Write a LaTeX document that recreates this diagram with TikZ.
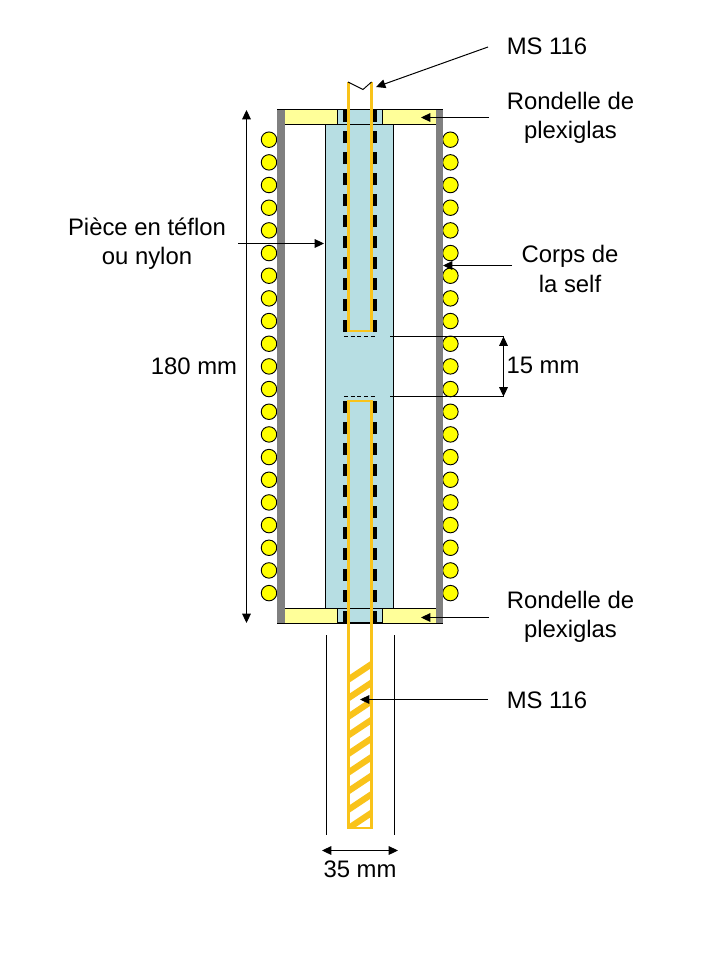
\documentclass[tikz,border=0pt]{standalone}
\usepackage{fontspec}
\setmainfont{Liberation Sans}
\usetikzlibrary{arrows.meta}
\definecolor{wallgray}{HTML}{808080}
\definecolor{plexi}{HTML}{FFFF99}
\definecolor{teflon}{HTML}{B7DEE3}
\definecolor{tube}{HTML}{F9C31A}
\definecolor{coil}{HTML}{FFFF00}
\tikzset{
  lab/.style={font=\fontsize{17.9}{21.8}\selectfont,align=center,inner sep=0pt,text=black},
  part/.style={draw=black,line width=0.75pt},
  coilturn/.style={circle,draw=black,fill=coil,line width=0.7pt,minimum size=11.6pt,inner sep=0pt},
  leader/.style={draw=black,line width=0.75pt,-{Triangle[length=7pt,width=6.5pt]}},
  dim/.style={draw=black,line width=0.75pt,{Triangle[length=7pt,width=6.5pt]}-{Triangle[length=7pt,width=6.5pt]}},
  thin line/.style={draw=black,line width=0.75pt},
  tubeline/.style={draw=tube,line width=2.1pt},
  sleeve/.style={draw=black,line width=2.6pt,dash pattern=on 9pt off 6.75pt},
  fine/.style={draw=black,line width=0.7pt,dash pattern=on 3pt off 2pt}
}
\begin{document}
\begin{tikzpicture}[x=0.75pt,y=-0.75pt]
\useasboundingbox (0,0) rectangle (720,960);
\fill[white] (0,0) rectangle (720,960);
% coils
\foreach \i in {0,...,20}{
  \node[coilturn] (cl\i) at (269,{139.7+22.67*\i}) {};
  \node[coilturn] (cr\i) at (450.4,{139.7+22.67*\i}) {};
}
% teflon piece
\filldraw[part,fill=teflon] (325.7,124.3) rectangle (393.5,608.3);
% plexiglas
\filldraw[part,fill=plexi] (284,109.5) rectangle (337.5,124.3);
\filldraw[part,fill=plexi] (382.5,109.5) rectangle (436,124.3);
\filldraw[part,fill=plexi] (284,608.3) rectangle (337.5,623.2);
\filldraw[part,fill=plexi] (382.5,608.3) rectangle (436,623.2);
% centre plugs
\filldraw[part,fill=teflon] (337.5,109.5) rectangle (382.5,124.3);
\filldraw[part,fill=teflon] (337.5,608.3) rectangle (382.5,622.8);
% body walls
\fill[wallgray] (277.3,109.5) rectangle (284.7,623.2);
\fill[wallgray] (436,109.5) rectangle (443,623.2);
\draw[part] (277.3,109.5) -- (443,109.5);
\draw[part] (277.3,623.2) -- (443,623.2);
% sleeves
\path[sleeve] (345,332) -- (345,110);
\path[sleeve] (375,332) -- (375,110);
\path[sleeve] (345,401) -- (345,623);
\path[sleeve] (375,401) -- (375,623);
\draw[line width=1.2pt] (345,622.8) -- (375,622.8);
% fine dashes
\path[fine] (344,336.4) -- (376,336.4);
\path[fine] (344,396.5) -- (376,396.5);
% upper tube
\path[tubeline] (348.7,82) -- (348.7,331) -- (371.7,331) -- (371.7,82);
\draw[black,line width=0.7pt] (348,82) -- (363,89.5) -- (371.5,82);
% lower tube
\begin{scope}
\clip (348.7,401) rectangle (371.7,828);
\foreach \k in {0,...,8}{
  \fill[tube] (372,{660+18.6*\k}) -- (372,{667.5+18.6*\k}) -- (348,{683.5+18.6*\k}) -- (348,{676+18.6*\k}) -- cycle;
}
\end{scope}
\path[tubeline] (348.7,828) -- (348.7,401) -- (371.7,401) -- (371.7,828) -- cycle;
% labels
\node[lab] (ms1) at (547,46.5) {MS 116};
\node[lab] (ron1) at (570.5,117.5) {Rondelle de\\plexiglas};
\node[lab] (corps) at (570,269) {Corps de\\la self};
\node[lab] (d15) at (543,365) {15 mm};
\node[lab] (ron2) at (570.5,616.5) {Rondelle de\\plexiglas};
\node[lab] (ms2) at (547,700.5) {MS 116};
\node[lab] (teflonlab) at (147,243.5) {Pièce en téflon\\ou nylon};
\node[lab] (d180) at (194,366.5) {180 mm};
\node[lab] (d35) at (360,869.5) {35 mm};
% leader ends
\coordinate (ms1s) at (488,47);   \coordinate (ms1e) at (376,87);
\coordinate (ron1s) at (489,117.5); \coordinate (ron1e) at (421,117.5);
\coordinate (ron2s) at (489,617.5); \coordinate (ron2e) at (421,617.5);
\coordinate (corpss) at (512,265.5);\coordinate (corpse) at (443,265.5);
\coordinate (tefs) at (238,243.5);  \coordinate (tefe) at (324,243.5);
\coordinate (ms2s) at (488,699.5);  \coordinate (ms2e) at (360,699.5);
\path[leader] (ms1s) -- (ms1e);
\path[leader] (ron1s) -- (ron1e);
\path[leader] (ron2s) -- (ron2e);
\path[leader] (corpss) -- (corpse);
\path[leader] (tefs) -- (tefe);
\path[leader] (ms2s) -- (ms2e);
% dimensions
\coordinate (a180t) at (246.5,110); \coordinate (a180b) at (246.5,623);
\path[dim] (a180t) -- (a180b);
\coordinate (a15t) at (503.5,336.5); \coordinate (a15b) at (503.5,396.5);
\coordinate (e15t) at (390,336.5); \coordinate (e15b) at (390,396.5);
\path[thin line] (e15t) -- (a15t);
\path[thin line] (e15b) -- (a15b);
\path[dim] (a15t) -- (a15b);
\coordinate (a35l) at (322,850.5); \coordinate (a35r) at (398,850.5);
\path[dim] (a35l) -- (a35r);
\coordinate (l35a) at (326.5,635); \coordinate (l35b) at (326.5,835);
\coordinate (r35a) at (394.5,635); \coordinate (r35b) at (394.5,835);
\path[thin line] (l35a) -- (l35b);
\path[thin line] (r35a) -- (r35b);
\end{tikzpicture}
\end{document}
